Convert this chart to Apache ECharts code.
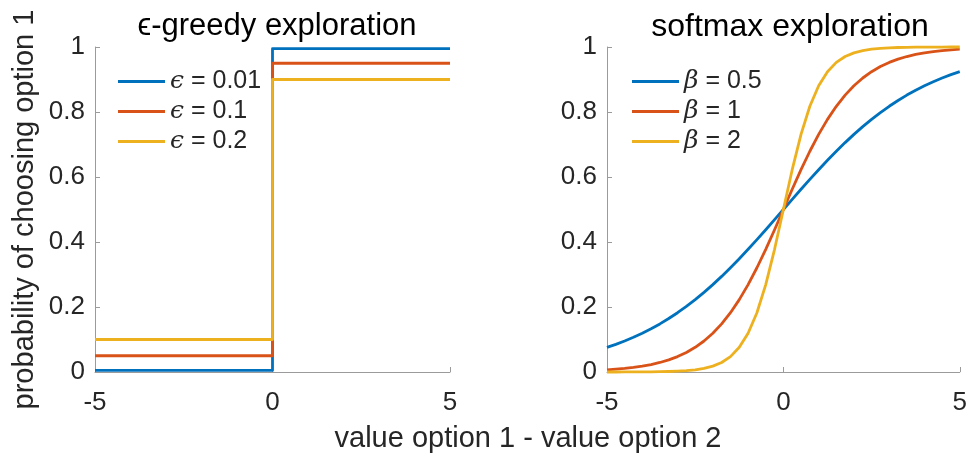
<!DOCTYPE html>
<html>
<head>
<meta charset="utf-8">
<script src="https://cdn.jsdelivr.net/npm/echarts@6/dist/echarts.min.js"></script>
<style>
  html, body { margin: 0; padding: 0; background: #fff; }
  #chart { width: 970px; height: 458px; }
</style>
</head>
<body>
<div id="chart"></div>
<script>
// ε-greedy choice probabilities: flat below 0, jump at 0, flat above
const greedyNames = ['ϵ = 0.01', 'ϵ = 0.1', 'ϵ = 0.2'];
const greedyX = [-5, 0, 0, 5];
const greedy001 = [0.005, 0.005, 0.995, 0.995];
const greedy01 = [0.05, 0.05, 0.95, 0.95];
const greedy02 = [0.1, 0.1, 0.9, 0.9];

// softmax choice probabilities sampled along the value difference
const softNames = ['β = 0.5', 'β = 1', 'β = 2'];
const softX = [-5, -4.75, -4.5, -4.25, -4, -3.75, -3.5, -3.25, -3, -2.75, -2.5, -2.25, -2, -1.75, -1.5, -1.25, -1, -0.75, -0.5, -0.25,
  0, 0.25, 0.5, 0.75, 1, 1.25, 1.5, 1.75, 2, 2.25, 2.5, 2.75, 3, 3.25, 3.5, 3.75, 4, 4.25, 4.5, 4.75, 5];
const softBeta05 = [0.0759, 0.0851, 0.0954, 0.1067, 0.1192, 0.1330, 0.1480, 0.1645, 0.1824, 0.2018, 0.2227, 0.2451, 0.2689, 0.2942, 0.3208, 0.3486, 0.3775, 0.4073, 0.4378, 0.4688,
  0.5, 0.5312, 0.5622, 0.5927, 0.6225, 0.6514, 0.6792, 0.7058, 0.7311, 0.7549, 0.7773, 0.7982, 0.8176, 0.8355, 0.8520, 0.8670, 0.8808, 0.8933, 0.9046, 0.9149, 0.9241];
const softBeta1 = [0.0067, 0.0086, 0.0110, 0.0141, 0.0180, 0.0230, 0.0293, 0.0373, 0.0474, 0.0601, 0.0759, 0.0954, 0.1192, 0.1480, 0.1824, 0.2227, 0.2689, 0.3208, 0.3775, 0.4378,
  0.5, 0.5622, 0.6225, 0.6792, 0.7311, 0.7773, 0.8176, 0.8520, 0.8808, 0.9046, 0.9241, 0.9399, 0.9526, 0.9627, 0.9707, 0.9770, 0.9820, 0.9859, 0.9890, 0.9914, 0.9933];
const softBeta2 = [0.00005, 0.00007, 0.00012, 0.0002, 0.00034, 0.00055, 0.00091, 0.0015, 0.0025, 0.0041, 0.0067, 0.0110, 0.0180, 0.0293, 0.0474, 0.0759, 0.1192, 0.1824, 0.2689, 0.3775,
  0.5, 0.6225, 0.7311, 0.8176, 0.8808, 0.9241, 0.9526, 0.9707, 0.9820, 0.9890, 0.9933, 0.9959, 0.9975, 0.9985, 0.9991, 0.99945, 0.99966, 0.9998, 0.99988, 0.99993, 0.99995];

const panelTitles = ['ϵ-greedy exploration', 'softmax exploration'];
const yName = 'probability of choosing option 1';
const xName = 'value option 1 - value option 2';

const colors = ['#0072BD', '#D95319', '#EDB120'];
const FONT = '"Liberation Sans", Arial, Helvetica, sans-serif';
const TEXT = '#262626';
const AXIS = '#9b9b9b';

function pairs(xs, ys) { return xs.map((x, i) => [x, ys[i]]); }

function xAxisFor(gridIndex) {
  return {
    type: 'value', gridIndex, min: -5, max: 5, interval: 5,
    axisLine: { show: true, onZero: false, lineStyle: { color: AXIS, width: 1 } },
    axisTick: { show: true, inside: true, length: 5, lineStyle: { color: AXIS } },
    axisLabel: { color: TEXT, fontSize: 26, fontFamily: FONT, margin: 18 },
    splitLine: { show: false }
  };
}
function yAxisFor(gridIndex, withName) {
  const ax = {
    type: 'value', gridIndex, min: 0, max: 1, interval: 0.2,
    axisLine: { show: true, onZero: false, lineStyle: { color: AXIS, width: 1 } },
    axisTick: { show: true, inside: true, length: 5, lineStyle: { color: AXIS } },
    axisLabel: { color: TEXT, fontSize: 26, fontFamily: FONT, margin: 10 },
    splitLine: { show: false }
  };
  if (withName) {
    Object.assign(ax, {
      name: yName, nameLocation: 'middle', nameGap: 56,
      nameTextStyle: { color: TEXT, fontSize: 29, fontFamily: FONT }
    });
  }
  return ax;
}
function lineSeries(name, data, idx, xi) {
  return {
    type: 'line', name, data, xAxisIndex: xi, yAxisIndex: xi,
    showSymbol: false, symbol: 'none', smooth: false,
    lineStyle: { color: colors[idx], width: 2.8, join: 'round' },
    itemStyle: { color: colors[idx] },
    animation: false, clip: false
  };
}
function legendFor(names, left) {
  return {
    data: names, orient: 'vertical', left, top: 64,
    icon: 'rect', itemWidth: 47, itemHeight: 3, itemGap: 5,
    selectedMode: false,
    formatter: n => '{g|' + n.charAt(0) + '}' + n.slice(1),
    textStyle: {
      color: TEXT, fontSize: 25, fontFamily: FONT, lineHeight: 25,
      rich: { g: { fontStyle: 'italic', fontSize: 25, fontFamily: '"DejaVu Serif", serif', color: TEXT } }
    }
  };
}

const chart = echarts.init(document.getElementById('chart'), null, { renderer: 'canvas' });
chart.setOption({
  animation: false,
  backgroundColor: '#fff',
  color: colors,
  title: [
    { text: panelTitles[0], left: 272, top: 6, textAlign: 'center',
      textStyle: { color: '#000', fontSize: 31, fontWeight: 'normal', fontFamily: FONT } },
    { text: panelTitles[1], left: 785, top: 6, textAlign: 'center',
      textStyle: { color: '#000', fontSize: 32, fontWeight: 'normal', fontFamily: FONT } }
  ],
  grid: [
    { left: 95, top: 47, width: 355, height: 325, containLabel: false },
    { left: 607, top: 47, width: 355, height: 325, containLabel: false }
  ],
  xAxis: [xAxisFor(0), xAxisFor(1)],
  yAxis: [yAxisFor(0, true), yAxisFor(1, false)],
  legend: [legendFor(greedyNames, 113), legendFor(softNames, 627)],
  graphic: [{
    type: 'text', x: 528, y: 424,
    style: { text: xName, fill: TEXT, font: '29px ' + FONT, textAlign: 'center' }
  }],
  series: [
    lineSeries(greedyNames[0], pairs(greedyX, greedy001), 0, 0),
    lineSeries(greedyNames[1], pairs(greedyX, greedy01), 1, 0),
    lineSeries(greedyNames[2], pairs(greedyX, greedy02), 2, 0),
    lineSeries(softNames[0], pairs(softX, softBeta05), 0, 1),
    lineSeries(softNames[1], pairs(softX, softBeta1), 1, 1),
    lineSeries(softNames[2], pairs(softX, softBeta2), 2, 1)
  ]
});
</script>
</body>
</html>
